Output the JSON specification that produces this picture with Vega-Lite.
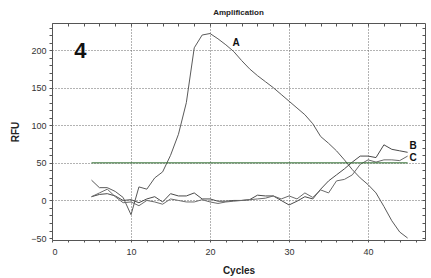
{
  "$schema": "https://vega.github.io/schema/vega-lite/v6.json",
  "width": 373,
  "height": 217,
  "autosize": "none",
  "padding": {"left": 52, "top": 23, "right": 6, "bottom": 38},
  "background": "white",
  "title": {"text": "Amplification", "fontSize": 8, "fontWeight": "bold", "font": "Liberation Sans", "color": "#222", "offset": 6},
  "config": {
    "view": {"stroke": "#555", "strokeWidth": 1},
    "axis": {"labelFont": "Liberation Sans", "titleFont": "Liberation Sans", "labelColor": "#333", "titleColor": "#222", "domain": false, "tickColor": "#555"}
  },
  "datasets": {
    "curves": [
      {"cycle":5,"rfu":27,"series":"A"},{"cycle":6,"rfu":17,"series":"A"},{"cycle":7,"rfu":17,"series":"A"},{"cycle":8,"rfu":12,"series":"A"},{"cycle":9,"rfu":4,"series":"A"},{"cycle":10,"rfu":-19,"series":"A"},{"cycle":11,"rfu":18,"series":"A"},{"cycle":12,"rfu":15,"series":"A"},{"cycle":13,"rfu":30,"series":"A"},{"cycle":14,"rfu":38,"series":"A"},{"cycle":15,"rfu":60,"series":"A"},{"cycle":16,"rfu":88,"series":"A"},{"cycle":17,"rfu":130,"series":"A"},{"cycle":18,"rfu":203,"series":"A"},{"cycle":19,"rfu":220,"series":"A"},{"cycle":20,"rfu":222,"series":"A"},{"cycle":21,"rfu":215,"series":"A"},{"cycle":22,"rfu":207,"series":"A"},{"cycle":23,"rfu":198,"series":"A"},{"cycle":24,"rfu":186,"series":"A"},{"cycle":25,"rfu":175,"series":"A"},{"cycle":26,"rfu":166,"series":"A"},{"cycle":27,"rfu":158,"series":"A"},{"cycle":28,"rfu":150,"series":"A"},{"cycle":29,"rfu":141,"series":"A"},{"cycle":30,"rfu":132,"series":"A"},{"cycle":31,"rfu":123,"series":"A"},{"cycle":32,"rfu":114,"series":"A"},{"cycle":33,"rfu":102,"series":"A"},{"cycle":34,"rfu":85,"series":"A"},{"cycle":35,"rfu":76,"series":"A"},{"cycle":36,"rfu":66,"series":"A"},{"cycle":37,"rfu":54,"series":"A"},{"cycle":38,"rfu":41,"series":"A"},{"cycle":39,"rfu":30,"series":"A"},{"cycle":40,"rfu":21,"series":"A"},{"cycle":41,"rfu":10,"series":"A"},{"cycle":42,"rfu":-8,"series":"A"},{"cycle":43,"rfu":-27,"series":"A"},{"cycle":44,"rfu":-42,"series":"A"},{"cycle":45,"rfu":-50,"series":"A"},
      {"cycle":5,"rfu":5,"series":"B"},{"cycle":6,"rfu":8,"series":"B"},{"cycle":7,"rfu":9,"series":"B"},{"cycle":8,"rfu":6,"series":"B"},{"cycle":9,"rfu":0,"series":"B"},{"cycle":10,"rfu":1,"series":"B"},{"cycle":11,"rfu":-3,"series":"B"},{"cycle":12,"rfu":2,"series":"B"},{"cycle":13,"rfu":5,"series":"B"},{"cycle":14,"rfu":-2,"series":"B"},{"cycle":15,"rfu":9,"series":"B"},{"cycle":16,"rfu":6,"series":"B"},{"cycle":17,"rfu":6,"series":"B"},{"cycle":18,"rfu":10,"series":"B"},{"cycle":19,"rfu":2,"series":"B"},{"cycle":20,"rfu":2,"series":"B"},{"cycle":21,"rfu":-1,"series":"B"},{"cycle":22,"rfu":-1,"series":"B"},{"cycle":23,"rfu":0,"series":"B"},{"cycle":24,"rfu":0,"series":"B"},{"cycle":25,"rfu":1,"series":"B"},{"cycle":26,"rfu":7,"series":"B"},{"cycle":27,"rfu":6,"series":"B"},{"cycle":28,"rfu":6,"series":"B"},{"cycle":29,"rfu":0,"series":"B"},{"cycle":30,"rfu":-6,"series":"B"},{"cycle":31,"rfu":-1,"series":"B"},{"cycle":32,"rfu":5,"series":"B"},{"cycle":33,"rfu":2,"series":"B"},{"cycle":34,"rfu":15,"series":"B"},{"cycle":35,"rfu":26,"series":"B"},{"cycle":36,"rfu":34,"series":"B"},{"cycle":37,"rfu":42,"series":"B"},{"cycle":38,"rfu":51,"series":"B"},{"cycle":39,"rfu":59,"series":"B"},{"cycle":40,"rfu":59,"series":"B"},{"cycle":41,"rfu":57,"series":"B"},{"cycle":42,"rfu":74,"series":"B"},{"cycle":43,"rfu":68,"series":"B"},{"cycle":44,"rfu":66,"series":"B"},{"cycle":45,"rfu":64,"series":"B"},
      {"cycle":5,"rfu":5,"series":"C"},{"cycle":6,"rfu":10,"series":"C"},{"cycle":7,"rfu":15,"series":"C"},{"cycle":8,"rfu":5,"series":"C"},{"cycle":9,"rfu":-3,"series":"C"},{"cycle":10,"rfu":-2,"series":"C"},{"cycle":11,"rfu":-7,"series":"C"},{"cycle":12,"rfu":0,"series":"C"},{"cycle":13,"rfu":-2,"series":"C"},{"cycle":14,"rfu":-5,"series":"C"},{"cycle":15,"rfu":2,"series":"C"},{"cycle":16,"rfu":0,"series":"C"},{"cycle":17,"rfu":-2,"series":"C"},{"cycle":18,"rfu":-2,"series":"C"},{"cycle":19,"rfu":1,"series":"C"},{"cycle":20,"rfu":-2,"series":"C"},{"cycle":21,"rfu":-4,"series":"C"},{"cycle":22,"rfu":-2,"series":"C"},{"cycle":23,"rfu":-1,"series":"C"},{"cycle":24,"rfu":0,"series":"C"},{"cycle":25,"rfu":1,"series":"C"},{"cycle":26,"rfu":2,"series":"C"},{"cycle":27,"rfu":3,"series":"C"},{"cycle":28,"rfu":6,"series":"C"},{"cycle":29,"rfu":2,"series":"C"},{"cycle":30,"rfu":6,"series":"C"},{"cycle":31,"rfu":2,"series":"C"},{"cycle":32,"rfu":10,"series":"C"},{"cycle":33,"rfu":4,"series":"C"},{"cycle":34,"rfu":14,"series":"C"},{"cycle":35,"rfu":10,"series":"C"},{"cycle":36,"rfu":26,"series":"C"},{"cycle":37,"rfu":28,"series":"C"},{"cycle":38,"rfu":34,"series":"C"},{"cycle":39,"rfu":48,"series":"C"},{"cycle":40,"rfu":54,"series":"C"},{"cycle":41,"rfu":51,"series":"C"},{"cycle":42,"rfu":54,"series":"C"},{"cycle":43,"rfu":54,"series":"C"},{"cycle":44,"rfu":53,"series":"C"},{"cycle":45,"rfu":59,"series":"C"},
      {"cycle":5,"rfu":50,"series":"Threshold"},{"cycle":45,"rfu":50,"series":"Threshold"}
    ],
    "labels": [
      {"cycle":23.3,"rfu":209,"text":"A","size":10},
      {"cycle":45.7,"rfu":72,"text":"B","size":10},
      {"cycle":45.7,"rfu":56,"text":"C","size":10},
      {"cycle":3.6,"rfu":199,"text":"4","size":22}
    ]
  },
  "layer": [
    {
      "data": {"name": "curves"},
      "mark": {"type": "line", "strokeWidth": 1, "clip": true},
      "encoding": {
        "x": {"field": "cycle", "type": "quantitative",
          "scale": {"domain": [0, 47.2], "nice": false, "zero": false},
          "axis": {"title": "Cycles", "titleFontSize": 10, "titleFontWeight": "bold", "titlePadding": 9,
            "values": [0,2,4,6,8,10,12,14,16,18,20,22,24,26,28,30,32,34,36,38,40,42,44,46],
            "labelExpr": "datum.value % 10 == 0 ? datum.label : ''",
            "labelFontSize": 9, "labelPadding": 5, "tickSize": 2,
            "grid": true, "gridDash": [1, 2], "gridColor": "#666",
            "gridOpacity": {"condition": {"test": "datum.value % 10 == 0 && datum.value > 0", "value": 1}, "value": 0}}},
        "y": {"field": "rfu", "type": "quantitative",
          "scale": {"domain": [-52.6, 236], "nice": false, "zero": false},
          "axis": {"title": "RFU", "titleFontSize": 10, "titleFontWeight": "bold", "titlePadding": 10,
            "values": [-50,-40,-30,-20,-10,0,10,20,30,40,50,60,70,80,90,100,110,120,130,140,150,160,170,180,190,200,210,220,230],
            "labelExpr": "datum.value % 50 == 0 ? datum.label : ''",
            "labelFontSize": 9, "labelPadding": 3, "tickSize": 3,
            "grid": true, "gridDash": [1, 2], "gridColor": "#666",
            "gridOpacity": {"condition": {"test": "datum.value % 50 == 0 && datum.value > -50", "value": 1}, "value": 0}}},
        "color": {"field": "series", "type": "nominal", "legend": null,
          "scale": {"domain": ["A", "B", "C", "Threshold"], "range": ["#5a5a5a", "#4a4a4a", "#6a6a6a", "#2d6b2d"]}},
        "strokeWidth": {"field": "series", "type": "nominal", "legend": null,
          "scale": {"domain": ["A", "B", "C", "Threshold"], "range": [1, 1, 1, 1.5]}}
      }
    },
    {
      "data": {"name": "labels"},
      "mark": {"type": "text", "font": "Liberation Sans", "fontWeight": "bold", "color": "#111", "align": "center", "baseline": "middle"},
      "encoding": {
        "x": {"field": "cycle", "type": "quantitative",
          "axis": {"orient": "top", "title": null, "labels": false, "grid": false, "tickSize": -3,
            "values": [0,2,4,6,8,10,12,14,16,18,20,22,24,26,28,30,32,34,36,38,40,42,44,46]}},
        "y": {"field": "rfu", "type": "quantitative",
          "axis": {"orient": "right", "title": null, "labels": false, "grid": false, "tickSize": -3,
            "values": [-50,-40,-30,-20,-10,0,10,20,30,40,50,60,70,80,90,100,110,120,130,140,150,160,170,180,190,200,210,220,230]}},
        "text": {"field": "text"},
        "size": {"field": "size", "type": "quantitative", "scale": null, "legend": null}
      }
    }
  ],
  "resolve": {"axis": {"x": "independent", "y": "independent"}}
}
